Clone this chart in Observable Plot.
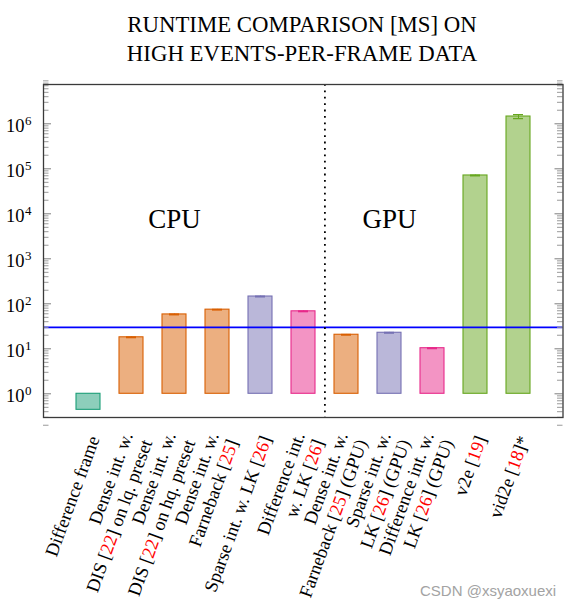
<!DOCTYPE html>
<html>
<head>
<meta charset="utf-8">
<script src="https://cdn.jsdelivr.net/npm/d3@7"></script>
<script src="https://cdn.jsdelivr.net/npm/@observablehq/plot@0.6"></script>
<style>
  html, body { margin: 0; padding: 0; background: #fff; }
  #wrap { position: relative; width: 569px; height: 608px; overflow: hidden; }
  #title {
    box-sizing: border-box; height: 70px; padding-top: 10px; padding-left: 35px;
    text-align: center; font-family: "Liberation Serif", "DejaVu Serif", serif;
    font-size: 22.8px; line-height: 29px; color: #000;
  }
  #chart svg { display: block; }
  #mark {
    position: absolute; left: 420px; top: 582px; font-family: "Liberation Sans", Arial, sans-serif;
    font-size: 15px; color: #a3a3a3; white-space: nowrap;
  }
</style>
</head>
<body>
<div id="wrap">
  <div id="title">RUNTIME COMPARISON [MS] ON<br>HIGH EVENTS-PER-FRAME DATA</div>
  <div id="chart"></div>
  <div id="mark">CSDN @xsyaoxuexi</div>
</div>
<script>
// ---- data ----
const methods = [
  "Difference frame",
  "Dense int. w.\nDIS [22] on lq. preset",
  "Dense int. w.\nDIS [22] on hq. preset",
  "Dense int. w.\nFarneback [25]",
  "Sparse int. w. LK [26]",
  "Difference int.\nw. LK [26]",
  "Dense int. w.\nFarneback [25] (GPU)",
  "Sparse int. w.\nLK [26] (GPU)",
  "Difference int. w.\nLK [26] (GPU)",
  "v2e [19]",
  "vid2e [18]*"
];
const runtimes = [0.44, 18, 58, 74, 145, 68, 20.5, 22.7, 10.3, 71000, 1450000];
const errors   = [0, 0.3, 1, 1, 2.5, 1.2, 0.3, 0.4, 0.2, 1200, 145000];
const groups   = ["frame", "dense", "dense", "dense", "sparse", "diff", "dense", "sparse", "diff", "sim", "sim"];
const groupColors = {frame: "#1b9e77", dense: "#d95f02", sparse: "#7570b3", diff: "#e7298a", sim: "#66a61e"};
const realtime = 30;
const sectionLabels = ["CPU", "GPU"];
const sectionAt = [methods[2], methods[7]];
const sectionY = 7500;
const exponents = [0, 1, 2, 3, 4, 5, 6];
const majors = exponents.map(e => 10 ** e);
const minors = [];
for (let e = -1; e <= 6; e++) for (let m = 2; m <= 9; m++) minors.push(m * 10 ** e);

// ---- layout ----
const W = 569, H = 538, mL = 43, mR = 6.5, mT = 14, mB = 191;
const innerW = W - mL - mR;
const pIn = 0.444, pOut = 0.734;
const step = innerW / (methods.length - pIn + 2 * pOut);
const serif = "Liberation Serif, DejaVu Serif, serif";
const idx = d3.range(methods.length);
const col = i => groupColors[groups[i]];

const chart = Plot.plot({
  width: W, height: H,
  marginLeft: mL, marginRight: mR, marginTop: mT, marginBottom: mB,
  style: {fontFamily: serif, background: "white"},
  x: {type: "band", domain: methods, paddingInner: pIn, paddingOuter: pOut, axis: null},
  y: {type: "log", domain: [10 ** -0.527, 10 ** 6.873], axis: null},
  marks: [
    // bars
    Plot.barY(idx, {
      x: i => methods[i], y1: () => 1, y2: i => runtimes[i],
      fill: col, fillOpacity: 0.5, stroke: col, strokeWidth: 1.1
    }),
    // error bars
    Plot.ruleX(idx.filter(i => errors[i] > 0), {
      x: i => methods[i], y1: i => runtimes[i] - errors[i], y2: i => runtimes[i] + errors[i],
      stroke: col, strokeWidth: 1
    }),
    Plot.tickY(idx.filter(i => i > 0), {
      x: i => methods[i], y: i => runtimes[i] + errors[i],
      stroke: col, strokeWidth: 1.3, insetLeft: 7, insetRight: 7
    }),
    Plot.tickY(idx.filter(i => i > 0), {
      x: i => methods[i], y: i => runtimes[i] - errors[i],
      stroke: col, strokeWidth: 1.3, insetLeft: 7, insetRight: 7
    }),
    // realtime line
    Plot.ruleY([realtime], {stroke: "#0000ff", strokeWidth: 1.7}),
    // CPU / GPU separator
    Plot.ruleX([methods[6]], {dx: -step / 2, stroke: "#000", strokeWidth: 1.8, strokeDasharray: "1.8,4.6"}),
    // section labels
    Plot.text(sectionLabels, {
      x: (d, i) => sectionAt[i], y: () => sectionY, text: d => d,
      fontSize: 27, fontFamily: serif, fill: "#000"
    }),
    // inward ticks, left and right
    Plot.ruleY(minors, {y: d => d, insetRight: innerW - 5.5, stroke: "#9a9a9a", strokeWidth: 1}),
    Plot.ruleY(majors, {y: d => d, insetRight: innerW - 8, stroke: "#8a8a8a", strokeWidth: 1.1}),
    Plot.ruleY(minors, {y: d => d, insetLeft: innerW - 5.5, stroke: "#9a9a9a", strokeWidth: 1}),
    Plot.ruleY(majors, {y: d => d, insetLeft: innerW - 8, stroke: "#8a8a8a", strokeWidth: 1.1}),
    // y tick labels 10^k
    Plot.text(majors, {
      y: d => d, frameAnchor: "left", text: () => "10",
      textAnchor: "end", dx: -19, dy: 2.3, fontSize: 18.5, fontFamily: serif, fill: "#000"
    }),
    Plot.text(majors, {
      y: d => d, frameAnchor: "left", text: (d, i) => String(exponents[i]),
      textAnchor: "start", dx: -18.5, dy: -3, fontSize: 13, fontFamily: serif, fill: "#000"
    }),
    // category labels
    Plot.text(methods, {
      x: d => d, frameAnchor: "bottom", text: d => d,
      rotate: -70, textAnchor: "end", lineAnchor: "middle", lineHeight: 1.12,
      dx: 5, dy: 19, fontSize: 18.5, fontFamily: serif, fill: "#000"
    }),
    Plot.frame({stroke: "#3a3a3a", strokeWidth: 1.3})
  ]
});
document.getElementById("chart").appendChild(chart);

// colour citation numbers red (e.g. "[22]")
const cite = /\[(\d+)\]/g;
const svgNS = "http://www.w3.org/2000/svg";
chart.querySelectorAll("text, tspan").forEach(el => {
  if (el.children.length) return;
  const s = el.textContent;
  if (!cite.test(s)) return;
  cite.lastIndex = 0;
  while (el.firstChild) el.removeChild(el.firstChild);
  let last = 0, m;
  while ((m = cite.exec(s))) {
    el.appendChild(document.createTextNode(s.slice(last, m.index) + "["));
    const t = document.createElementNS(svgNS, "tspan");
    t.setAttribute("fill", "#ff0000");
    t.textContent = m[1];
    el.appendChild(t);
    el.appendChild(document.createTextNode("]"));
    last = m.index + m[0].length;
  }
  el.appendChild(document.createTextNode(s.slice(last)));
});
</script>
</body>
</html>
